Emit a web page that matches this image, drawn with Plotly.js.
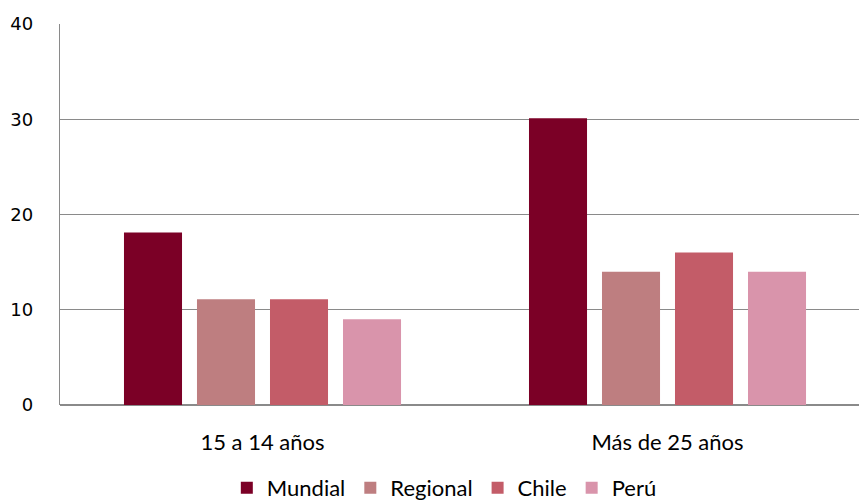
<!DOCTYPE html>
<html>
<head>
<meta charset="utf-8">
<script src="https://cdn.plot.ly/plotly-3.0.1.min.js"></script>
<style>html,body{margin:0;padding:0;background:#fff;}#chart{width:859px;height:501px;}</style>
</head>
<body>
<div id="chart"></div>
<script>
const categories = ["15 a 14 años", "Más de 25 años"];
const seriesNames = ["Mundial", "Regional", "Chile", "Perú"];
const mundial = [18.1, 30.1];
const regional = [11.1, 14.0];
const chile = [11.1, 16.0];
const peru = [9.0, 14.0];
const yTicks = [0, 10, 20, 30, 40];

const colors = ["#7b0026", "#be7e80", "#c35c68", "#d994ab"];
const values = [mundial, regional, chile, peru];

const data = seriesNames.map((name, i) => ({
  type: "bar",
  name: name,
  x: categories,
  y: values[i],
  marker: {color: colors[i], line: {width: 0}},
  hoverinfo: "none"
}));

const layout = {
  width: 859,
  height: 501,
  margin: {l: 60, r: 0, t: 24, b: 96, autoexpand: false},
  paper_bgcolor: "#ffffff",
  plot_bgcolor: "#ffffff",
  barmode: "group",
  bargap: 0.279,
  bargroupgap: 0.205,
  showlegend: true,
  legend: {
    orientation: "h",
    x: 0.481,
    xanchor: "center",
    y: -0.218,
    yanchor: "middle",
    font: {family: "Lato, sans-serif", size: 22, color: "#000"},
    itemwidth: 30,
    traceorder: "normal"
  },
  xaxis: {
    type: "category",
    range: [-0.5, 1.4728],
    showgrid: false,
    showline: false,
    zeroline: false,
    ticks: "",
    ticklabelstandoff: 22,
    tickfont: {family: "Lato, sans-serif", size: 22, color: "#000"},
    fixedrange: true
  },
  yaxis: {
    range: [0, 40],
    tickvals: yTicks,
    ticktext: yTicks.map(String),
    showgrid: true,
    gridcolor: "#8a8a8a",
    gridwidth: 1.3,
    showline: true,
    linecolor: "#8a8a8a",
    linewidth: 1.3,
    zeroline: true,
    zerolinecolor: "#8a8a8a",
    zerolinewidth: 1.3,
    ticks: "",
    ticklabelstandoff: 22,
    tickfont: {family: "DejaVu Sans, sans-serif", size: 18, color: "#000"},
    fixedrange: true
  }
};

Plotly.newPlot("chart", data, layout, {displayModeBar: false, staticPlot: true});
</script>
</body>
</html>
